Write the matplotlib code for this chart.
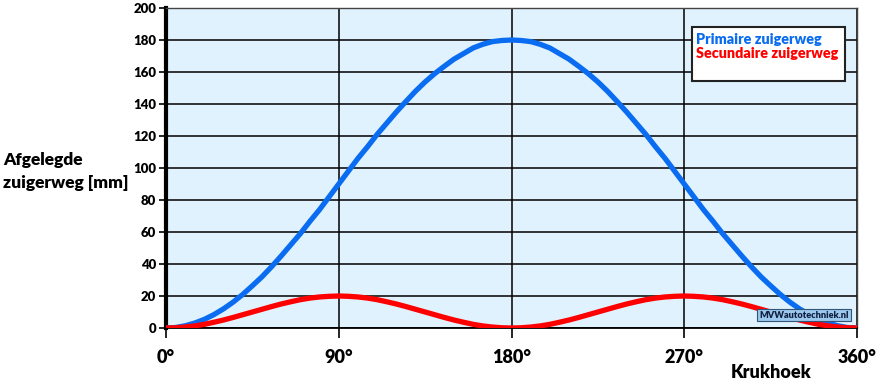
import matplotlib
matplotlib.use("Agg")
import matplotlib.pyplot as plt

angles = list(range(0, 361, 5))
_prim_half = [0, 0.3, 1.4, 3.1, 5.4, 8.4, 12, 16.2, 21, 26.4, 32, 38.3, 45, 52, 59, 66.7, 74, 82, 90,
              98, 106, 113.3, 121, 128, 135, 141.6, 148, 153.8, 159, 163.6, 168, 171.5, 175, 177.3, 179, 179.7, 180]
primaire = _prim_half + _prim_half[-2::-1]
_sec_quarter = [0, 0.15, 0.6, 1.3, 2.3, 3.6, 5, 6.6, 8.3, 10, 11.7, 13.4, 15, 16.4, 17.7, 18.7, 19.4, 19.8, 20]
_sec_half = _sec_quarter + _sec_quarter[-2::-1]
secundaire = _sec_half + _sec_half[1:]
x_ticks = [0, 90, 180, 270, 360]
x_labels = ["0°", "90°", "180°", "270°", "360°"]
y_ticks = list(range(0, 201, 20))

plt.rcParams['font.family'] = ['Lato', 'DejaVu Sans']
W = 'heavy'

fig = plt.figure(figsize=(8.8, 3.85), dpi=100)
ax = fig.add_axes([166/880, 1-328/385, (857-166)/880, (328-8)/385])
ax.set_facecolor('#dff2fd')

ax.plot(angles, primaire, color='#0a6cf0', lw=3.8, solid_joinstyle='round', zorder=3)
ax.plot(angles, secundaire, color='#ff0000', lw=3.8, solid_joinstyle='round', zorder=4)

ax.set_xlim(0, 360)
ax.set_ylim(0, 200)
ax.set_xticks(x_ticks)
ax.set_xticklabels(x_labels, fontsize=13, fontweight=W)
ax.set_yticks(y_ticks)
ax.set_yticklabels([str(v) for v in y_ticks], fontsize=9.5, fontweight=W)
ax.tick_params(axis='x', length=7, width=1.2, pad=8, color='black')
ax.tick_params(axis='y', length=5, width=1.2, pad=2, color='black')
ax.grid(True, color='black', lw=1.1, zorder=1)
ax.set_axisbelow(True)
for s in ['top', 'right']:
    ax.spines[s].set_color('#444444')
    ax.spines[s].set_linewidth(1.0)
ax.spines['left'].set_linewidth(3)
ax.spines['bottom'].set_linewidth(1.3)

# legend box
fig.patches.append(matplotlib.patches.Rectangle((692/880, 1-81/385), (845-692)/880, (81-27)/385,
                   transform=fig.transFigure, facecolor='white', edgecolor='#222222', lw=1.5, zorder=5))
fig.text(696/880, 1-39/385, "Primaire zuigerweg", color='#0a6cf0', fontsize=10.4, fontweight=W,
         va='center', ha='left', zorder=6)
fig.text(696/880, 1-53/385, "Secundaire zuigerweg", color='#ff0000', fontsize=10.4, fontweight=W,
         va='center', ha='left', zorder=6)

# watermark
fig.text(804/880, 1-315/385, "MVWautotechniek.nl", fontsize=6.6, fontweight=W, color='#102040',
         ha='center', va='center', zorder=7,
         bbox=dict(boxstyle='square,pad=0.2', facecolor='#9cc8ee', edgecolor='#33557a', lw=0.8))

fig.text(3/880, 1-160/385, "Afgelegde", fontsize=12.5, fontweight=W, ha='left', va='center')
fig.text(3/880, 1-183/385, "zuigerweg [mm]", fontsize=12.5, fontweight=W, ha='left', va='center')
fig.text(771/880, 1-373/385, "Krukhoek", fontsize=13, fontweight=W, ha='center', va='center')

fig.savefig("out.png", dpi=100)
